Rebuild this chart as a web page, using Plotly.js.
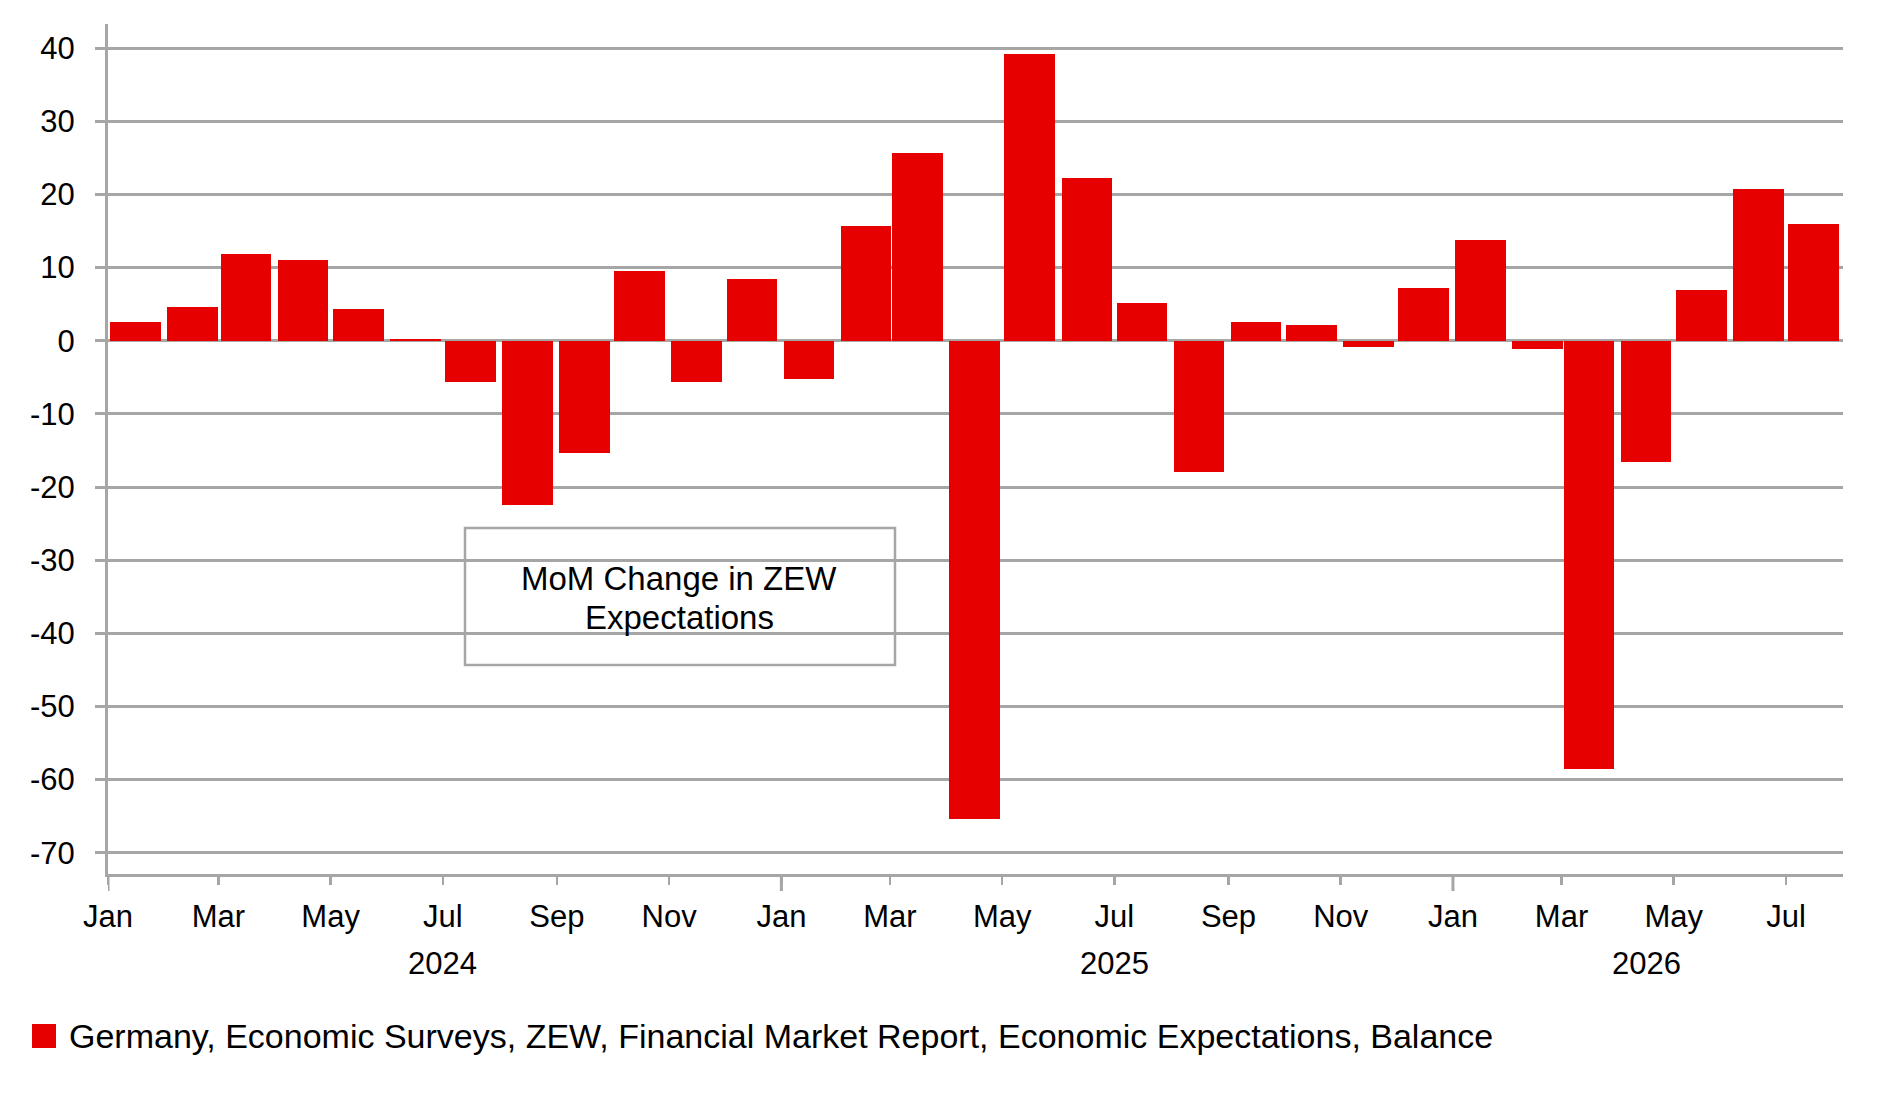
<!DOCTYPE html>
<html>
<head>
<meta charset="utf-8">
<script src="https://cdn.plot.ly/plotly-3.0.1.min.js"></script>
<style>
  html, body { margin: 0; padding: 0; background: #fff; }
  #chart { width: 1883px; height: 1101px; }
</style>
</head>
<body>
<div id="chart"></div>
<script>
// monthly change, Jan 2024 .. Jul 2026
const months = [
  "2024-01", "2024-02", "2024-03", "2024-04", "2024-05", "2024-06",
  "2024-07", "2024-08", "2024-09", "2024-10", "2024-11", "2024-12",
  "2025-01", "2025-02", "2025-03", "2025-04", "2025-05", "2025-06",
  "2025-07", "2025-08", "2025-09", "2025-10", "2025-11", "2025-12",
  "2026-01", "2026-02", "2026-03", "2026-04", "2026-05", "2026-06",
  "2026-07"
];
const values = [
  2.5, 4.6, 11.8, 11.1, 4.3, 0.3,
  -5.6, -22.5, -15.4, 9.5, -5.6, 8.4,
  -5.2, 15.7, 25.6, -65.4, 39.2, 22.3,
  5.1, -17.9, 2.6, 2.1, -0.8, 7.2,
  13.8, -1.1, -58.5, -16.6, 7.0, 20.7,
  15.9
];
const years = ["2024", "2025", "2026"];
const yearCenters = ["2024-07-01", "2025-07-01", "2026-04-16"];
const yearStarts = ["2024-01-01", "2025-01-01", "2026-01-01"];
const yTicks = [-70, -60, -50, -40, -30, -20, -10, 0, 10, 20, 30, 40];

const seriesName = "Germany, Economic Surveys, ZEW, Financial Market Report, Economic Expectations, Balance";
const boxLines = ["MoM Change in ZEW", "Expectations"];

const grey = "#a6a6a6";
const red = "#e60000";
const fontFam = "Liberation Sans, Arial, sans-serif";

const W = 1883, H = 1101;
const M = { l: 108, r: 40, t: 24, b: 227 };
const plotW = W - M.l - M.r;
const plotH = H - M.t - M.b;
// pixel position -> paper fraction
const px = v => (v - M.l) / plotW;
const py = v => (H - M.b - v) / plotH;

const xMid = months.map(m => m + "-16");
const day = 24 * 3600 * 1000;

const data = [{
  type: "bar",
  x: xMid,
  y: values,
  width: 27.5 * day,
  name: seriesName,
  showlegend: false,
  marker: { color: red, line: { width: 0 } },
  hoverinfo: "x+y"
}];

const annotations = years.map((yr, i) => ({
  x: yearCenters[i], xref: "x",
  y: py(963), yref: "paper", yanchor: "middle",
  text: yr, showarrow: false,
  font: { family: fontFam, size: 31, color: "#000" }
}));

// text box
boxLines.forEach((line, i) => {
  annotations.push({
    x: px(679), xref: "paper", xanchor: "center",
    y: py(578 + i * 39), yref: "paper", yanchor: "middle",
    text: line, showarrow: false,
    font: { family: fontFam, size: 33, color: "#000" }
  });
});

// legend text
annotations.push({
  x: px(67), xref: "paper", xanchor: "left",
  y: py(1036), yref: "paper", yanchor: "middle",
  text: seriesName, showarrow: false,
  font: { family: fontFam, size: 34, color: "#000" }
});

const shapes = yearStarts.map(d => ({
  type: "line", xref: "x", yref: "paper",
  x0: d, x1: d, y0: 0, y1: -17 / plotH,
  line: { color: grey, width: 3 }
}));

shapes.push({
  type: "rect", xref: "paper", yref: "paper",
  x0: px(465), x1: px(895), y0: py(528), y1: py(665),
  line: { color: grey, width: 2.5 },
  fillcolor: "rgba(0,0,0,0)"
});

// legend swatch
shapes.push({
  type: "rect", xref: "paper", yref: "paper",
  x0: px(32), x1: px(56), y0: py(1024), y1: py(1048),
  line: { width: 0 },
  fillcolor: red
});

const layout = {
  width: W,
  height: H,
  margin: M,
  paper_bgcolor: "#fff",
  plot_bgcolor: "#fff",
  font: { family: fontFam, size: 31, color: "#000" },
  bargap: 0,
  showlegend: false,
  xaxis: {
    type: "date",
    range: ["2024-01-01", "2026-08-01"],
    tick0: "2024-01-01",
    dtick: "M2",
    tickformat: "%b",
    ticks: "outside",
    ticklen: 8,
    tickwidth: 2.5,
    tickcolor: grey,
    ticklabelstandoff: 5,
    showline: true,
    linecolor: grey,
    linewidth: 3,
    showgrid: false,
    zeroline: false,
    tickfont: { family: fontFam, size: 31, color: "#000" },
    fixedrange: true
  },
  yaxis: {
    range: [-72.9, 43.3],
    tickmode: "array",
    tickvals: yTicks,
    ticktext: yTicks.map(String),
    ticks: "outside",
    ticklen: 10,
    tickwidth: 3,
    tickcolor: grey,
    showline: true,
    linecolor: grey,
    linewidth: 3,
    showgrid: true,
    gridcolor: grey,
    gridwidth: 3,
    zeroline: true,
    zerolinecolor: grey,
    zerolinewidth: 3,
    tickfont: { family: fontFam, size: 31, color: "#000" },
    ticklabelstandoff: 14,
    fixedrange: true
  },
  annotations: annotations,
  shapes: shapes
};

Plotly.newPlot("chart", data, layout, { displayModeBar: false, staticPlot: true });
</script>
</body>
</html>
